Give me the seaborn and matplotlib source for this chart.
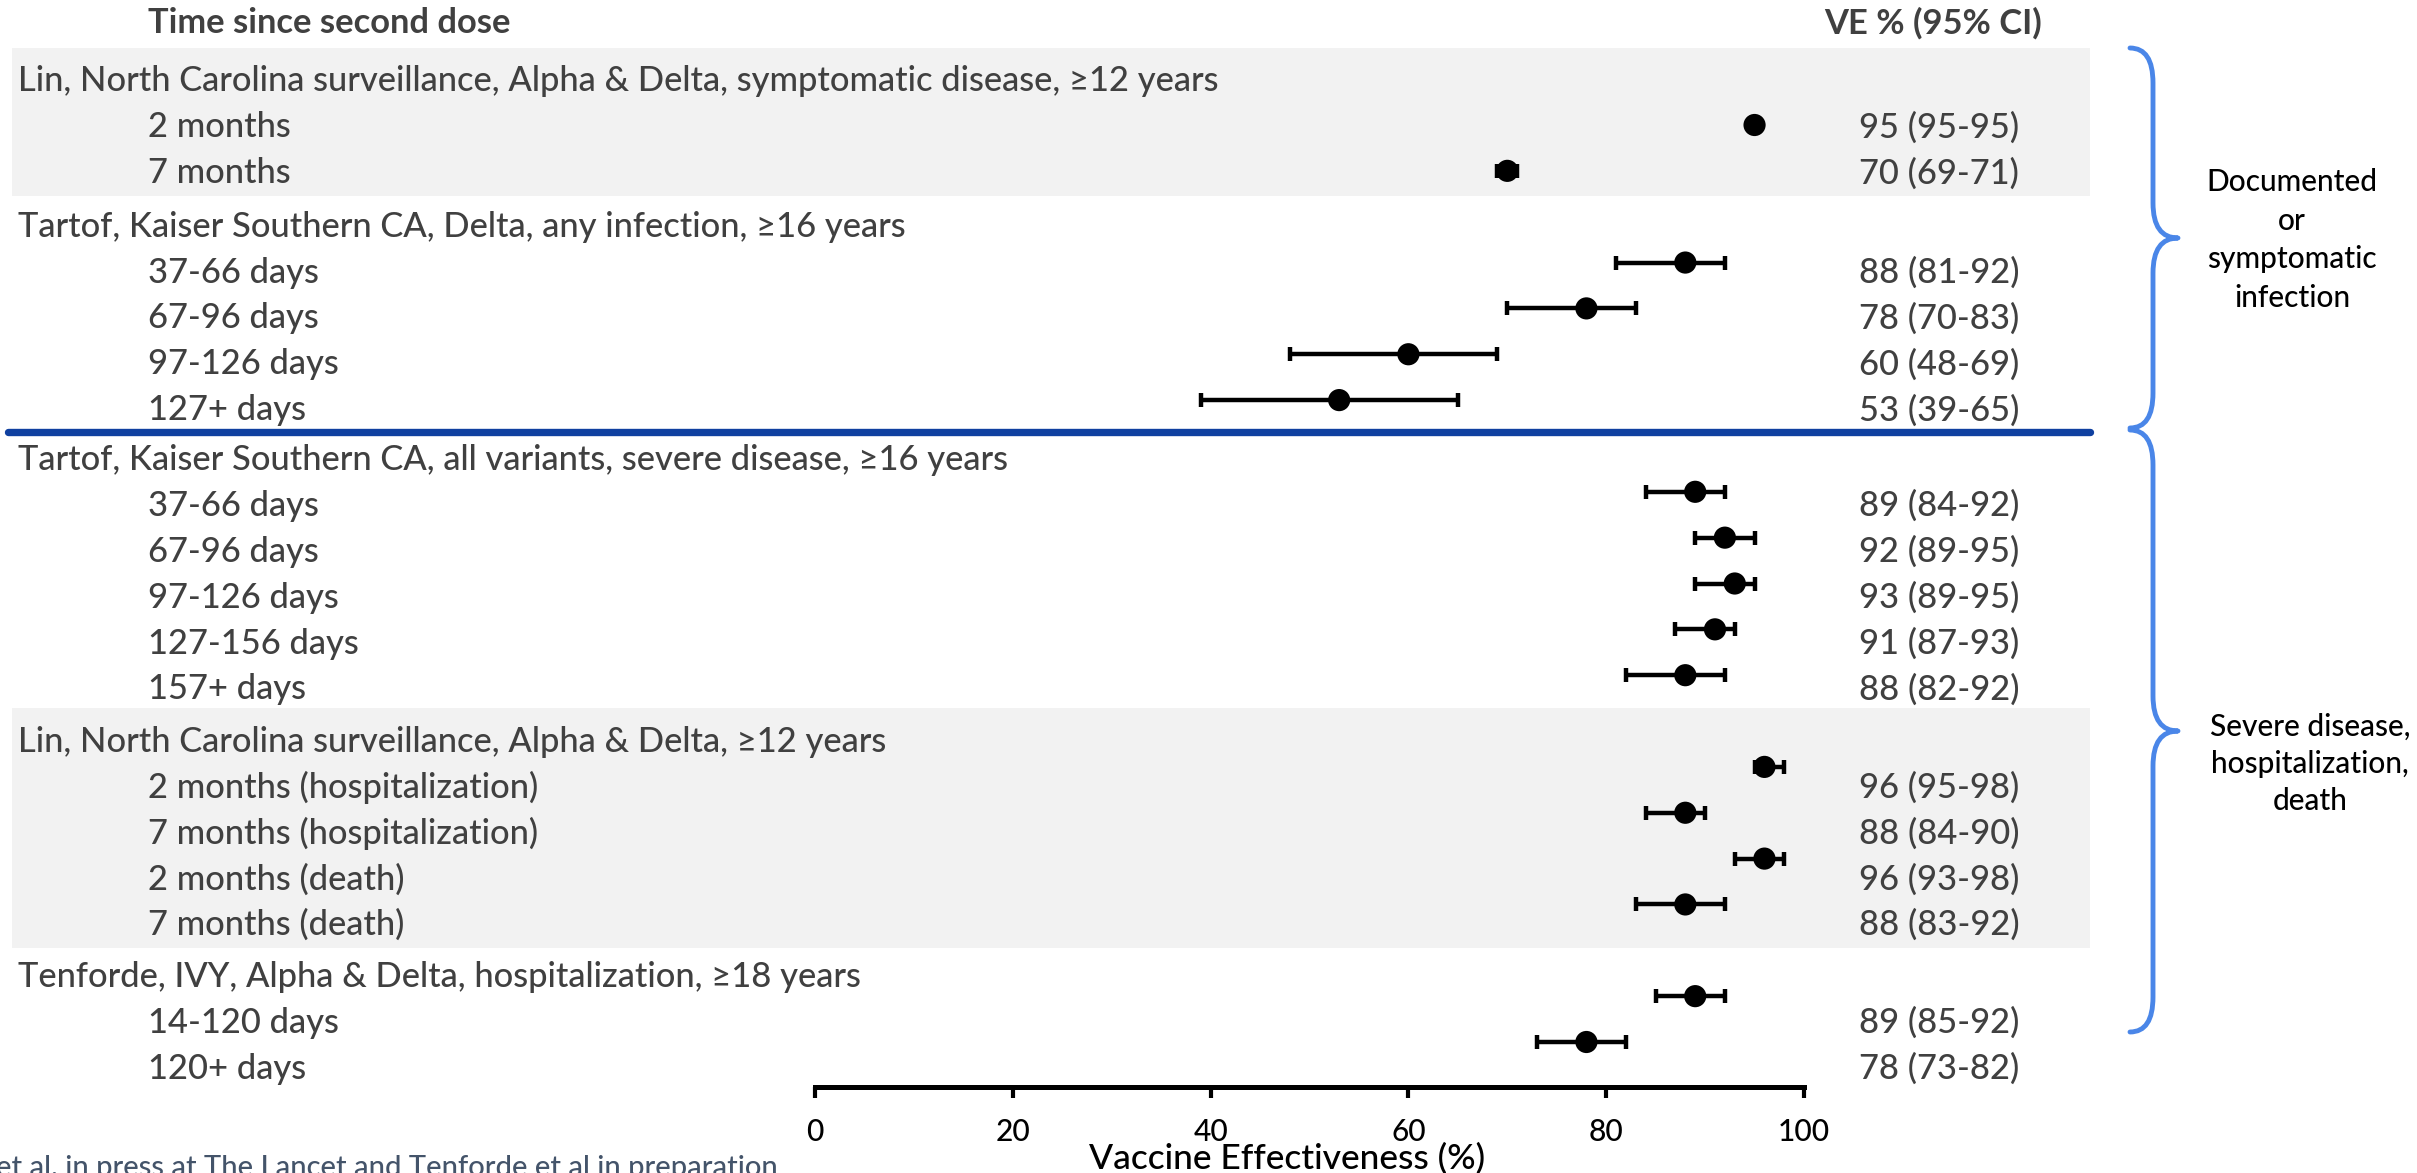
import numpy as np
import pandas as pd
import matplotlib
matplotlib.use("Agg")
import matplotlib.pyplot as plt
import seaborn as sns
from matplotlib.path import Path
from matplotlib.patches import PathPatch

# ---------------- data ----------------
group_titles = [
    "Lin, North Carolina surveillance, Alpha & Delta, symptomatic disease, \u226512 years",
    "Tartof, Kaiser Southern CA, Delta, any infection, \u226516 years",
    "Tartof, Kaiser Southern CA, all variants, severe disease, \u226516 years",
    "Lin, North Carolina surveillance, Alpha & Delta, \u226512 years",
    "Tenforde, IVY, Alpha & Delta, hospitalization, \u226518 years",
]
group_shaded = [True, False, False, True, False]

row_labels = [
    "2 months", "7 months",
    "37-66 days", "67-96 days", "97-126 days", "127+ days",
    "37-66 days", "67-96 days", "97-126 days", "127-156 days", "157+ days",
    "2 months (hospitalization)", "7 months (hospitalization)",
    "2 months (death)", "7 months (death)",
    "14-120 days", "120+ days",
]
row_group = [0, 0, 1, 1, 1, 1, 2, 2, 2, 2, 2, 3, 3, 3, 3, 4, 4]
ve_point = [95, 70, 88, 78, 60, 53, 89, 92, 93, 91, 88, 96, 88, 96, 88, 89, 78]
ci_low = [95, 69, 81, 70, 48, 39, 84, 89, 89, 87, 82, 95, 84, 93, 83, 85, 73]
ci_high = [95, 71, 92, 83, 69, 65, 92, 95, 95, 93, 92, 98, 90, 98, 92, 92, 82]

x_ticks = [0, 20, 40, 60, 80, 100]
x_label = "Vaccine Effectiveness (%)"
col_header_left = "Time since second dose"
col_header_right = "VE % (95% CI)"
brace_texts = ["Documented\nor\nsymptomatic\ninfection",
               "Severe disease,\nhospitalization,\ndeath"]
footnote = "et al. in press at The Lancet and Tenforde et al in preparation"

# ---------------- layout (pixels of the 2417x1173 canvas) ----------------
FIG_W, FIG_H, DPI = 2417, 1173, 100
X0_PX, X100_PX = 815, 1804          # pixel of VE=0 and VE=100
AXIS_PX = 1087                      # pixel row of the x axis line
ROW0_PX, SLOT_PX = 125, 45.85       # first point row and row pitch
label_shift = [0.05, 0.22, 0.31, 0.45, 0.58]   # text offset of each group (rows)
BODY = 24.8

def xd(px):
    return (px - X0_PX) / (X100_PX - X0_PX) * 100.0

def yd(py):
    return (py - ROW0_PX) / SLOT_PX

TEXT_GRAY = "#404040"
BAND = "#F2F2F2"
NAVY = "#0F40A0"
BRACE = "#4A86E8"

sns.set_theme(style="white")
plt.rcParams["font.family"] = ["Lato", "DejaVu Sans"]

df = pd.DataFrame({
    "label": row_labels, "group": row_group,
    "ve": ve_point, "lo": ci_low, "hi": ci_high,
})
df["slot"] = np.arange(len(df)) + df["group"]           # one empty slot per group header
df["text_y"] = df["slot"] + df["group"].map(lambda g: label_shift[g])

fig = plt.figure(figsize=(FIG_W / DPI, FIG_H / DPI), dpi=DPI)
ax = fig.add_axes([0, (FIG_H - AXIS_PX) / FIG_H, 1, AXIS_PX / FIG_H])
ax.set_xlim(xd(0), xd(FIG_W))
ax.set_ylim(yd(AXIS_PX), yd(0))
ax.patch.set_alpha(0)

# shaded bands and group titles
for g, shaded in enumerate(group_shaded):
    sub = df[df["group"] == g]
    head_y = sub["slot"].min() - 1 + label_shift[g]
    if shaded:
        ax.axhspan(head_y - 0.74, sub["text_y"].max() + 0.5,
                   xmin=12 / FIG_W, xmax=2090 / FIG_W, color=BAND, lw=0, zorder=0)
    ax.text(xd(18), head_y, group_titles[g], ha="left", va="center",
            fontsize=BODY, color=TEXT_GRAY, fontweight="medium")

g1_last = df[df["group"] == 1]["text_y"].max()
g2_head = df[df["group"] == 2]["slot"].min() - 1 + label_shift[2]
sep_y = (g1_last + g2_head) / 2 - 0.06
ax.axhline(sep_y, xmin=8 / FIG_W, xmax=2090 / FIG_W, color=NAVY, lw=5.3, zorder=1)

# row labels and VE text
for _, r in df.iterrows():
    ax.text(xd(148), r["text_y"], r["label"], ha="left", va="center",
            fontsize=BODY, color=TEXT_GRAY, fontweight="medium")
    ax.text(xd(1859), r["text_y"], f"{r['ve']} ({r['lo']}-{r['hi']})",
            ha="left", va="center", fontsize=BODY, color=TEXT_GRAY,
            fontweight="medium")

ax.text(xd(148), yd(23), col_header_left, ha="left", va="center",
        fontsize=BODY, fontweight="bold", color=TEXT_GRAY)
ax.text(xd(1824), yd(23), col_header_right, ha="left", va="center",
        fontsize=BODY, fontweight="bold", color=TEXT_GRAY)

# confidence intervals and point estimates
ax.errorbar(df["ve"], df["slot"],
            xerr=[df["ve"] - df["lo"], df["hi"] - df["ve"]],
            fmt="none", ecolor="black", elinewidth=3.2, capsize=5, capthick=3.2,
            zorder=3)
sns.scatterplot(data=df, x="ve", y="slot", ax=ax, s=255, color="black",
                edgecolor="none", zorder=4, legend=False)

# axes styling
for side in ["left", "top", "right"]:
    ax.spines[side].set_visible(False)
ax.spines["bottom"].set_bounds(0, 100)
ax.spines["bottom"].set_linewidth(3.6)
ax.spines["bottom"].set_color("black")
ax.set_xticks(x_ticks)
ax.set_xticklabels([str(t) for t in x_ticks])
ax.tick_params(axis="x", direction="out", length=8, width=3, color="black",
               labelsize=21.5, labelcolor="black", pad=14, bottom=True)
for lbl in ax.get_xticklabels():
    lbl.set_fontweight("medium")
ax.set_yticks([])
ax.set_ylabel("")
ax.set_xlabel(x_label, fontsize=25.5, color="black", fontweight="medium")
ax.xaxis.label.set_va("center")
ax.xaxis.set_label_coords(1287 / FIG_W, (AXIS_PX - 1159) / AXIS_PX)

# braces
def brace(top_px, bot_px, mid_px):
    x0, x1, x2 = xd(2130), xd(2153), xd(2178)
    yt, yb, ym = yd(top_px), yd(bot_px), yd(mid_px)
    r = 35 / SLOT_PX
    verts = [(x0, yt), (x1, yt), (x1, yt + r), (x1, ym - r), (x1, ym), (x2, ym),
             (x1, ym), (x1, ym + r), (x1, yb - r), (x1, yb), (x0, yb)]
    codes = [Path.MOVETO, Path.CURVE3, Path.CURVE3, Path.LINETO, Path.CURVE3,
             Path.CURVE3, Path.CURVE3, Path.CURVE3, Path.LINETO, Path.CURVE3,
             Path.CURVE3]
    ax.add_patch(PathPatch(Path(verts, codes), fill=False, edgecolor=BRACE,
                           lw=3.5, capstyle="round", joinstyle="round",
                           clip_on=False, zorder=2))

brace(48, 428, 238)
brace(430, 1032, 731)
ax.text(xd(2292), yd(240), brace_texts[0], ha="center", va="center",
        fontsize=21.5, color="black", linespacing=1.45, multialignment="center",
        fontweight="medium")
ax.text(xd(2310), yd(764), brace_texts[1], ha="center", va="center",
        fontsize=21.5, color="black", linespacing=1.4, multialignment="center",
        fontweight="medium")

fig.text(-4 / FIG_W, (FIG_H - 1176) / FIG_H, footnote, ha="left", va="baseline",
         fontsize=21, color="#44546A", fontweight="medium")

fig.savefig("out.png", dpi=DPI, facecolor="white")
